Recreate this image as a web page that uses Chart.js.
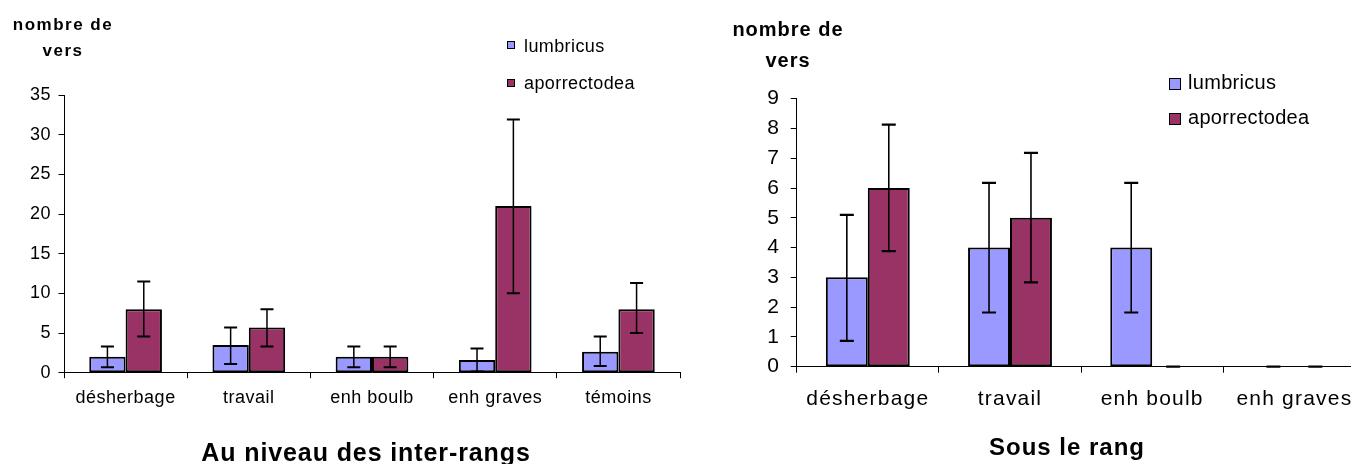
<!DOCTYPE html>
<html>
<head>
<meta charset="utf-8">
<script src="https://cdn.jsdelivr.net/npm/chart.js@4"></script>
<style>
  body { margin: 0; width: 1351px; height: 464px; overflow: hidden; background: #fff; position: relative;
         font-family: "Liberation Sans", Arial, sans-serif; color: #000; }
  .box { position: absolute; top: 0; height: 464px; }
  #left-box { left: 0; width: 690px; }
  #right-box { left: 700px; width: 680px; }
  .txt { position: absolute; line-height: 1; white-space: nowrap; }
  .mid { transform: translateX(-50%); }
  .sq { position: absolute; box-sizing: border-box; border: 1px solid #000; }
</style>
</head>
<body>
<div class="box" id="left-box"><canvas id="left-chart"></canvas></div>
<div class="box" id="right-box"><canvas id="right-chart"></canvas></div>

<!-- axis titles -->
<div class="txt mid" style="left:63px;top:15.6px;font-size:17px;font-weight:bold;letter-spacing:1.5px">nombre de</div>
<div class="txt mid" style="left:63px;top:42.3px;font-size:17px;font-weight:bold;letter-spacing:1.5px">vers</div>
<div class="txt mid" style="left:788px;top:19.1px;font-size:20px;font-weight:bold;letter-spacing:1px">nombre de</div>
<div class="txt mid" style="left:788px;top:49.8px;font-size:20px;font-weight:bold;letter-spacing:1px">vers</div>

<!-- legends -->
<div class="sq" style="left:506.5px;top:40.5px;width:8px;height:8px;background:#9999FF"></div>
<div class="txt" style="left:524px;top:36.5px;font-size:18px;letter-spacing:0.4px">lumbricus</div>
<div class="sq" style="left:506.5px;top:78.5px;width:8px;height:8px;background:#993366"></div>
<div class="txt" style="left:524px;top:74.3px;font-size:18px;letter-spacing:0.4px">aporrectodea</div>

<div class="sq" style="left:1169px;top:78.3px;width:12px;height:12px;border-width:1.5px;background:#9999FF"></div>
<div class="txt" style="left:1188px;top:72.4px;font-size:20px;letter-spacing:0.3px">lumbricus</div>
<div class="sq" style="left:1169px;top:113.3px;width:12px;height:12px;border-width:1.5px;background:#993366"></div>
<div class="txt" style="left:1188px;top:107.4px;font-size:20px;letter-spacing:0.3px">aporrectodea</div>

<!-- chart titles -->
<div class="txt mid" style="left:366px;top:439.7px;font-size:25px;font-weight:bold;letter-spacing:0.9px">Au niveau des inter-rangs</div>
<div class="txt mid" style="left:1067px;top:434.6px;font-size:24px;font-weight:bold;letter-spacing:1px">Sous le rang</div>

<script>
// left chart: inter-rangs
const leftCategories = ["désherbage", "travail", "enh boulb", "enh graves", "témoins"];
const leftLumbricus = [2, 3.5, 2, 1.6, 2.65];
const leftLumbricusLow = [0.7, 1.1, 0.7, 0.15, 0.85];
const leftLumbricusHigh = [3.3, 5.7, 3.3, 3.05, 4.55];
const leftAporrectodea = [8, 5.7, 2, 21, 8];
const leftAporrectodeaLow = [4.55, 3.3, 0.7, 10, 5];
const leftAporrectodeaHigh = [11.5, 8, 3.3, 31.9, 11.3];
const leftTicks = [0, 5, 10, 15, 20, 25, 30, 35];

// right chart: sous le rang
const rightCategories = ["désherbage", "travail", "enh boulb", "enh graves"];
const rightLumbricus = [3, 4, 4, 0];
const rightLumbricusLow = [0.87, 1.82, 1.82, 0];
const rightLumbricusHigh = [5.1, 6.17, 6.17, 0];
const rightAporrectodea = [6, 5, 0, 0];
const rightAporrectodeaLow = [3.88, 2.83, 0, 0];
const rightAporrectodeaHigh = [8.13, 7.18, 0, 0];
const rightTicks = [0, 1, 2, 3, 4, 5, 6, 7, 8, 9];

const FONT = "'Liberation Sans', Arial, sans-serif";

// draws the error bars from the low/high arrays
const errorBars = {
  id: "errorBars",
  afterDatasetsDraw(chart, args, opts) {
    const ctx = chart.ctx;
    const y = chart.scales.y;
    ctx.save();
    ctx.strokeStyle = "#000";
    chart.data.datasets.forEach((ds, i) => {
      const meta = chart.getDatasetMeta(i);
      meta.data.forEach((bar, j) => {
        const lo = y.getPixelForValue(ds.errLow[j]);
        const hi = y.getPixelForValue(ds.errHigh[j]);
        const x = bar.x;
        if (hi !== lo) {
          ctx.lineWidth = opts.stem;
          ctx.beginPath();
          ctx.moveTo(x, lo);
          ctx.lineTo(x, hi);
          ctx.stroke();
        }
        ctx.lineWidth = opts.cap;
        ctx.beginPath();
        ctx.moveTo(x - opts.capHalf, lo);
        ctx.lineTo(x + opts.capHalf, lo);
        ctx.moveTo(x - opts.capHalf, hi);
        ctx.lineTo(x + opts.capHalf, hi);
        ctx.stroke();
      });
    });
    ctx.restore();
  }
};

// the source text is spaced out a bit
const spacing = {
  id: "spacing",
  beforeDraw(chart, args, opts) {
    chart.ctx.letterSpacing = opts.value;
  }
};

function makeDataset(label, values, low, high, color) {
  return {
    label: label,
    data: values,
    errLow: low,
    errHigh: high,
    backgroundColor: color,
    borderColor: "#000",
    borderWidth: (c) => (c.raw === 0 ? 0 : 2),
    borderSkipped: false,
    categoryPercentage: 0.59,
    barPercentage: 1
  };
}

function makeChart(id, cfg) {
  return new Chart(document.getElementById(id), {
    type: "bar",
    data: {
      labels: cfg.categories,
      datasets: [
        makeDataset("lumbricus", cfg.lumb, cfg.lumbLow, cfg.lumbHigh, "#9999FF"),
        makeDataset("aporrectodea", cfg.apor, cfg.aporLow, cfg.aporHigh, "#993366")
      ]
    },
    options: {
      responsive: true,
      maintainAspectRatio: false,
      animation: false,
      layout: { padding: { left: 0, top: cfg.top, right: cfg.right, bottom: 0 } },
      plugins: {
        legend: { display: false },
        tooltip: { enabled: false },
        errorBars: cfg.err,
        spacing: { value: cfg.letterSpacing }
      },
      scales: {
        x: {
          afterFit: (s) => { s.height = cfg.xHeight; },
          grid: { drawOnChartArea: false, offset: true, tickLength: cfg.tickLen, color: "#000", lineWidth: 1 },
          border: { color: "#000", width: 1 },
          ticks: {
            color: "#000", autoSkip: false, maxRotation: 0, minRotation: 0,
            padding: cfg.xPad, font: { family: FONT, size: cfg.xFont }
          }
        },
        y: {
          min: 0,
          max: cfg.yTicks[cfg.yTicks.length - 1],
          afterFit: (s) => { s.width = cfg.yWidth; },
          afterBuildTicks: (s) => { s.ticks = cfg.yTicks.map(v => ({ value: v })); },
          grid: { drawOnChartArea: false, tickLength: cfg.tickLen, color: "#000", lineWidth: 1 },
          border: { color: "#000", width: 1 },
          ticks: { color: "#000", padding: cfg.yPad, font: { family: FONT, size: cfg.yFont } }
        }
      }
    },
    plugins: [errorBars, spacing]
  });
}

makeChart("left-chart", {
  categories: leftCategories,
  lumb: leftLumbricus, lumbLow: leftLumbricusLow, lumbHigh: leftLumbricusHigh,
  apor: leftAporrectodea, aporLow: leftAporrectodeaLow, aporHigh: leftAporrectodeaHigh,
  yTicks: leftTicks,
  top: 95, right: 10, yWidth: 64, xHeight: 91.3,
  tickLen: 5.5, xPad: 9.1, yPad: 7.5, xFont: 18, yFont: 18,
  letterSpacing: "0.5px",
  err: { stem: 1.5, cap: 2, capHalf: 6.5 }
});

makeChart("right-chart", {
  categories: rightCategories,
  lumb: rightLumbricus, lumbLow: rightLumbricusLow, lumbHigh: rightLumbricusHigh,
  apor: rightAporrectodea, aporLow: rightAporrectodeaLow, aporHigh: rightAporrectodeaHigh,
  yTicks: rightTicks,
  top: 98.7, right: 14.5, yWidth: 96.7, xHeight: 97.3,
  tickLen: 6, xPad: 14.1, yPad: 10.5, xFont: 21, yFont: 21,
  letterSpacing: "1.2px",
  err: { stem: 1.6, cap: 2.2, capHalf: 7 }
});
</script>
</body>
</html>
